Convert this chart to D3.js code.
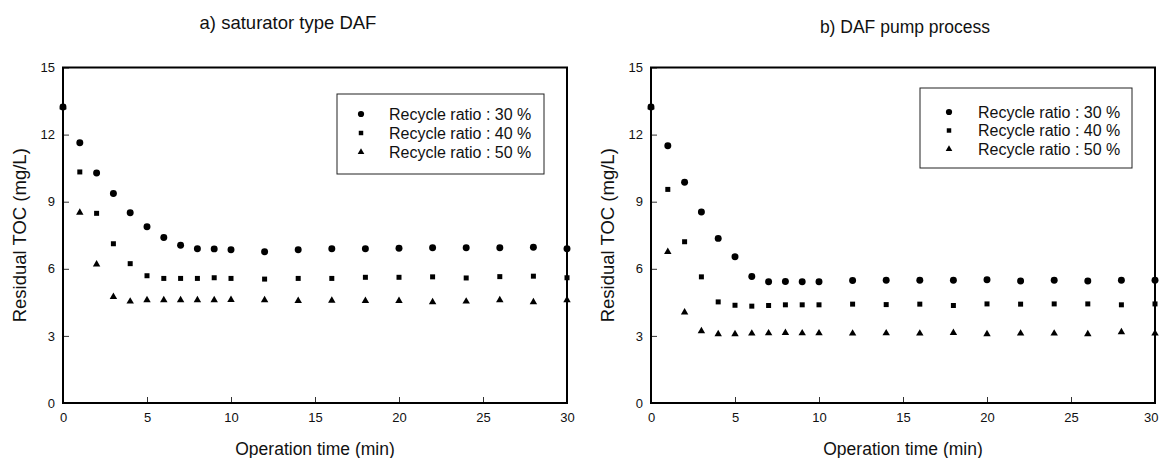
<!DOCTYPE html>
<html>
<head>
<meta charset="utf-8">
<script src="https://cdn.jsdelivr.net/npm/d3@7/dist/d3.min.js"></script>
<style>
  html, body { margin: 0; padding: 0; background: #fff; }
  svg { display: block; font-family: "Liberation Sans", Arial, sans-serif; }
  .tick text { font-size: 13px; fill: #111; }
  .tick line { stroke: #333; }
</style>
</head>
<body>
<svg id="chart" width="1160" height="458"></svg>
<script>
  // ── Data ──────────────────────────────────────────────────────────────────

  const TIME = [0, 1, 2, 3, 4, 5, 6, 7, 8, 9, 10, 12, 14, 16, 18, 20, 22, 24, 26, 28, 30];

  const SERIES_LABELS = ['Recycle ratio : 30 %', 'Recycle ratio : 40 %', 'Recycle ratio : 50 %'];
  const PANEL_TITLES  = ['a) saturator type DAF', 'b) DAF pump process'];

  // a) saturator type DAF
  const SAT_30 = [13.23, 11.64, 10.28, 9.37, 8.51, 7.88, 7.40, 7.05, 6.90, 6.89, 6.85, 6.76, 6.85, 6.90, 6.90, 6.92, 6.94, 6.94, 6.94, 6.96, 6.90];
  const SAT_40 = [13.23, 10.33, 8.48, 7.12, 6.23, 5.69, 5.57, 5.57, 5.57, 5.60, 5.57, 5.54, 5.57, 5.57, 5.62, 5.62, 5.64, 5.59, 5.65, 5.67, 5.60];
  const SAT_50 = [13.23, 8.51, 6.20, 4.75, 4.54, 4.60, 4.60, 4.60, 4.60, 4.60, 4.61, 4.60, 4.57, 4.58, 4.57, 4.57, 4.51, 4.54, 4.60, 4.51, 4.60];

  // b) DAF pump process
  const PUMP_30 = [13.23, 11.50, 9.87, 8.54, 7.36, 6.54, 5.66, 5.42, 5.43, 5.42, 5.42, 5.48, 5.49, 5.49, 5.49, 5.51, 5.45, 5.49, 5.45, 5.49, 5.49];
  const PUMP_40 = [13.23, 9.55, 7.21, 5.64, 4.52, 4.37, 4.33, 4.36, 4.39, 4.39, 4.39, 4.42, 4.40, 4.42, 4.36, 4.43, 4.42, 4.43, 4.43, 4.39, 4.43];
  const PUMP_50 = [13.23, 6.76, 4.05, 3.22, 3.08, 3.08, 3.11, 3.12, 3.14, 3.12, 3.12, 3.11, 3.12, 3.11, 3.14, 3.08, 3.11, 3.11, 3.08, 3.17, 3.11];

  const X_TICKS = [0, 5, 10, 15, 20, 25, 30];
  const Y_TICKS = [0, 3, 6, 9, 12, 15];

  // ── Layout ────────────────────────────────────────────────────────────────

  const SYMBOLS = [d3.symbolCircle, d3.symbolSquare, d3.symbolTriangle];
  const SYMBOL_SIZES = [38, 25, 24];

  const PANELS = [
    { left: 63,  right: 567,  title: PANEL_TITLES[0], titleX: 288, titleY: 29, titleSize: 18.5,
      series: [SAT_30, SAT_40, SAT_50],
      legend: { x: 337, y: 94, w: 207, h: 80, rows: [114, 133, 152], mx: 24, tx: 52 } },
    { left: 651, right: 1155, title: PANEL_TITLES[1], titleX: 905, titleY: 33, titleSize: 17.5,
      series: [PUMP_30, PUMP_40, PUMP_50],
      legend: { x: 920, y: 88, w: 212, h: 80, rows: [112, 130.5, 149], mx: 29, tx: 58 } },
  ];
  const TOP = 67.5, BOTTOM = 403;
  const PAGE_W = 1160;

  const svg = d3.select('#chart');

  PANELS.forEach(function (p) {
    const x = d3.scaleLinear().domain([0, 30]).range([p.left, p.right]);
    const y = d3.scaleLinear().domain([0, 15]).range([BOTTOM, TOP]);
    const g = svg.append('g');

    // axes (ticks point inward)
    g.append('g')
      .attr('transform', 'translate(0,' + BOTTOM + ')')
      .call(d3.axisBottom(x).tickValues(X_TICKS).tickSizeInner(-6).tickSizeOuter(0).tickPadding(10))
      .call(function (a) {
        a.select('.domain').remove();
        // keep the last label inside the page
        a.selectAll('.tick text').filter(function (d) { return x(d) + 9 > PAGE_W; })
          .attr('text-anchor', 'end').attr('dx', PAGE_W - 2 - x(30));
      });

    g.append('g')
      .attr('transform', 'translate(' + p.left + ',0)')
      .call(d3.axisLeft(y).tickValues(Y_TICKS).tickSizeInner(-6).tickSizeOuter(0).tickPadding(8))
      .call(function (a) { a.select('.domain').remove(); });

    // frame
    g.append('rect')
      .attr('x', p.left).attr('y', TOP)
      .attr('width', p.right - p.left).attr('height', BOTTOM - TOP)
      .attr('fill', 'none').attr('stroke', '#000').attr('stroke-width', 2);

    // title + axis labels
    g.append('text')
      .attr('x', p.titleX).attr('y', p.titleY)
      .attr('text-anchor', 'middle').attr('font-size', p.titleSize)
      .attr('fill', '#111').text(p.title);

    g.append('text')
      .attr('x', (p.left + p.right) / 2).attr('y', 455)
      .attr('text-anchor', 'middle').attr('font-size', 17.5)
      .attr('fill', '#111').text('Operation time (min)');

    g.append('text')
      .attr('transform', 'translate(' + (p.left - 37) + ',' + (TOP + BOTTOM) / 2 + ') rotate(-90)')
      .attr('text-anchor', 'middle').attr('font-size', 18.5)
      .attr('fill', '#111').text('Residual TOC (mg/L)');

    // data points
    p.series.forEach(function (vals, si) {
      const sym = d3.symbol().type(SYMBOLS[si]).size(SYMBOL_SIZES[si]);
      g.append('g').selectAll('path')
        .data(TIME.map(function (t, i) { return { t: t, v: vals[i] }; }))
        .join('path')
        .attr('d', sym)
        .attr('fill', '#000')
        .attr('transform', function (d) { return 'translate(' + x(d.t) + ',' + y(d.v) + ')'; });
    });

    // legend
    const L = p.legend;
    const lg = g.append('g').attr('transform', 'translate(' + L.x + ',' + L.y + ')');
    lg.append('rect')
      .attr('width', L.w).attr('height', L.h)
      .attr('fill', '#fff').attr('stroke', '#222').attr('stroke-width', 1);
    SERIES_LABELS.forEach(function (label, si) {
      const ry = L.rows[si] - L.y;
      lg.append('path')
        .attr('d', d3.symbol().type(SYMBOLS[si]).size(SYMBOL_SIZES[si] * 0.8))
        .attr('fill', '#000')
        .attr('transform', 'translate(' + L.mx + ',' + ry + ')');
      lg.append('text')
        .attr('x', L.tx).attr('y', ry + 5.7)
        .attr('font-size', 16).attr('fill', '#111')
        .text(label);
    });
  });
</script>
</body>
</html>
